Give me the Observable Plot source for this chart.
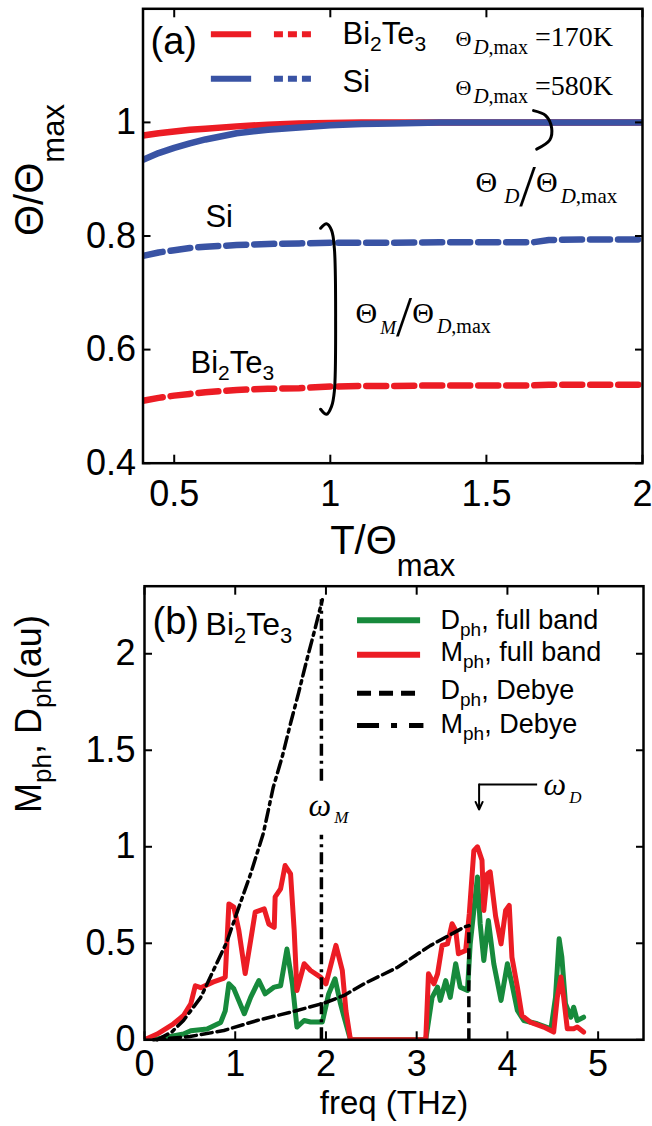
<!DOCTYPE html>
<html><head><meta charset="utf-8">
<script src="https://cdn.jsdelivr.net/npm/d3@7"></script>
<script src="https://cdn.jsdelivr.net/npm/@observablehq/plot@0.6"></script>
<style>
body{margin:0;background:#fff;}
#chart{width:652px;height:1126px;overflow:hidden;background:#fff}
#chart svg{display:block}
</style></head><body><div id="chart"></div>
<script>
// ---------- Panel (a) data ----------
const tA = [0.4, 0.45, 0.5, 0.55, 0.6, 0.7, 0.8, 0.9, 1.0, 1.1, 1.2, 1.35, 1.5, 1.65, 1.7, 1.8, 2.0];
const thetaD_Bi2Te3 = [0.977, 0.981, 0.984, 0.987, 0.989, 0.993, 0.996, 0.998, 0.999, 1.0, 1.0, 1.0, 1.0, 1.0, 1.0, 1.0, 1.0];
const thetaD_Si     = [0.934, 0.946, 0.955, 0.963, 0.970, 0.981, 0.987, 0.991, 0.995, 0.997, 0.998, 1.0, 1.0, 1.0, 1.0, 1.0, 1.0];
const thetaM_Si     = [0.765, 0.771, 0.775, 0.779, 0.781, 0.784, 0.786, 0.787, 0.788, 0.788, 0.788, 0.789, 0.789, 0.789, 0.793, 0.794, 0.794];
const thetaM_Bi2Te3 = [0.510, 0.515, 0.519, 0.522, 0.525, 0.529, 0.531, 0.532, 0.535, 0.536, 0.536, 0.537, 0.537, 0.537, 0.538, 0.538, 0.538];
const ticksAx = [0.5, 1, 1.5, 2];
const ticksAy = [0.4, 0.6, 0.8, 1];

// ---------- Panel (b) data ----------
const freqM = [0, 0.14, 0.32, 0.43, 0.51, 0.56, 0.62, 0.76, 0.87, 0.89, 0.93, 0.985, 1.04, 1.11, 1.17, 1.22, 1.32, 1.37, 1.43, 1.44, 1.5, 1.55, 1.61, 1.65, 1.68, 1.76, 1.83, 1.94, 2.0, 2.11, 2.18, 2.22, 2.27, 3.1, 3.13, 3.19, 3.23, 3.28, 3.34, 3.39, 3.43, 3.46, 3.54, 3.58, 3.63, 3.67, 3.72, 3.74, 3.78, 3.81, 3.87, 3.93, 3.98, 4.02, 4.05, 4.11, 4.16, 4.25, 4.4, 4.51, 4.55, 4.59, 4.62, 4.66, 4.73, 4.77, 4.84];
const Mph_full = [0, 0.03, 0.083, 0.126, 0.186, 0.28, 0.27, 0.30, 0.318, 0.325, 0.704, 0.687, 0.566, 0.343, 0.515, 0.661, 0.678, 0.6, 0.583, 0.74, 0.782, 0.903, 0.86, 0.566, 0.255, 0.394, 0.359, 0.325, 0.29, 0.489, 0.36, 0.152, 0, 0, 0.342, 0.29, 0.342, 0.489, 0.497, 0.601, 0.567, 0.446, 0.463, 0.653, 0.98, 1.0, 0.93, 0.67, 0.86, 0.87, 0.64, 0.497, 0.67, 0.696, 0.428, 0.273, 0.126, 0.092, 0.066, 0.04, 0.22, 0.325, 0.22, 0.057, 0.057, 0.066, 0.04];
const freqD = [0, 0.14, 0.43, 0.51, 0.69, 0.84, 0.89, 0.93, 0.985, 1.1, 1.17, 1.26, 1.33, 1.43, 1.5, 1.57, 1.63, 1.68, 1.76, 1.83, 1.96, 2.03, 2.1, 2.16, 2.2, 2.27, 3.1, 3.17, 3.23, 3.26, 3.32, 3.37, 3.43, 3.48, 3.56, 3.59, 3.67, 3.7, 3.74, 3.79, 3.85, 3.93, 4.0, 4.05, 4.11, 4.18, 4.33, 4.48, 4.53, 4.57, 4.6, 4.64, 4.7, 4.73, 4.77, 4.84];
const Dph_full = [0, 0.005, 0.03, 0.047, 0.056, 0.09, 0.15, 0.29, 0.264, 0.135, 0.22, 0.307, 0.238, 0.273, 0.28, 0.47, 0.29, 0.066, 0.1, 0.092, 0.092, 0.238, 0.316, 0.187, 0.117, 0, 0, 0.22, 0.273, 0.204, 0.307, 0.22, 0.394, 0.273, 0.256, 0.497, 0.843, 0.6, 0.411, 0.618, 0.394, 0.204, 0.394, 0.29, 0.152, 0.1, 0.083, 0.057, 0.22, 0.523, 0.428, 0.187, 0.117, 0.169, 0.1, 0.117];
const freqDebyeM = [0.14, 0.3, 0.43, 0.62, 0.76, 0.91, 1.02, 1.17, 1.31, 1.42, 1.52, 1.61, 1.7, 1.79, 1.88, 1.96];
const Mph_debye  = [0, 0.04, 0.10, 0.22, 0.36, 0.51, 0.66, 0.86, 1.07, 1.31, 1.47, 1.64, 1.80, 1.97, 2.13, 2.28];
const freqDebyeD = [0.1, 0.5, 0.875, 1.24, 1.61, 1.98, 2.2, 2.42, 2.79, 3.15, 3.52, 3.575];
const Dph_debye  = [0, 0.017, 0.048, 0.10, 0.143, 0.19, 0.23, 0.29, 0.376, 0.488, 0.583, 0.592];
const omegaM = 1.95, omegaD = 3.575;
const ticksBx = [0, 1, 2, 3, 4, 5];
const ticksBy = [0, 0.5, 1, 1.5, 2];

// ---------- styling ----------
const RED = "#ec1c24", BLUE = "#3953a4", GREEN = "#178a3c";
const SANS = "Liberation Sans, Arial, sans-serif";
const SERIF = "Liberation Serif, Times New Roman, serif";

// rich-text specs (subscripts / italics), keyed by plain text
const richA = {
  "Bi2Te3": [{t:"Bi",s:31},{t:"2",s:21,b:7},{t:"Te",s:31},{t:"3",s:21,b:7}],
  "ΘD,max =170K": [{t:"Θ",s:22,f:SERIF},{t:"D",s:21,b:8,i:1,f:SERIF,dx:2},{t:",max",s:20,b:8,f:SERIF},{t:" =170K",s:28,f:SERIF}],
  "ΘD,max =580K": [{t:"Θ",s:22,f:SERIF},{t:"D",s:21,b:8,i:1,f:SERIF,dx:2},{t:",max",s:20,b:8,f:SERIF},{t:" =580K",s:28,f:SERIF}],
  "ΘD/ΘD,max": [{t:"Θ",s:30,f:SERIF},{t:"D",s:21,b:11,i:1,f:SERIF,dx:7},{t:"/",s:60,b:14,f:SERIF},{t:"Θ",s:30,f:SERIF},{t:"D",s:21,b:11,i:1,f:SERIF,dx:3},{t:",max",s:21,b:11,f:SERIF}],
  "ΘM/ΘD,max": [{t:"Θ",s:30,f:SERIF},{t:"M",s:19,b:11,i:1,f:SERIF,dx:3},{t:"/",s:58,b:13,f:SERIF},{t:"Θ",s:30,f:SERIF},{t:"D",s:20,b:10,i:1,f:SERIF,dx:3},{t:",max",s:20,b:10,f:SERIF}],
  "T/Θmax": [{t:"T/Θ",s:40},{t:"max",s:31,b:22}],
  "Θ/Θmax": [{t:"Θ/Θ",s:40},{t:"max",s:31,b:21}]
};
const richB = {
  "Bi2Te3": [{t:"Bi",s:32},{t:"2",s:22,b:8},{t:"Te",s:32},{t:"3",s:22,b:8}],
  "Dph, full band": [{t:"D",s:27},{t:"ph",s:19,b:7},{t:", full band",s:27}],
  "Mph, full band": [{t:"M",s:27},{t:"ph",s:19,b:7},{t:", full band",s:27}],
  "Dph, Debye": [{t:"D",s:27},{t:"ph",s:19,b:7},{t:", Debye",s:27}],
  "Mph, Debye": [{t:"M",s:27},{t:"ph",s:19,b:7},{t:", Debye",s:27}],
  "ωM": [{t:"ω",s:32,i:1,f:SERIF},{t:"M",s:17,b:7,i:1,f:SERIF,dx:3}],
  "ωD": [{t:"ω",s:32,i:1,f:SERIF},{t:"D",s:17,b:8,i:1,f:SERIF,dx:3}],
  "Mph, Dph(au)": [{t:"M",s:36},{t:"ph",s:26,b:10},{t:", D",s:36},{t:"ph",s:26,b:10},{t:"(au)",s:36}],
  "freq (THz)": [{t:"freq (THz)",s:33}]
};

function rich(svg, specs) {
  svg.querySelectorAll("text").forEach(tx => {
    const segs = specs[tx.textContent];
    if (!segs) return;
    tx.removeAttribute("y");
    while (tx.firstChild) tx.removeChild(tx.firstChild);
    let prev = 0;
    for (const s of segs) {
      const ts = document.createElementNS("http://www.w3.org/2000/svg", "tspan");
      ts.textContent = s.t;
      if (s.s) ts.setAttribute("font-size", s.s);
      const b = s.b || 0;
      if (b !== prev) ts.setAttribute("dy", b - prev);
      prev = b;
      if (s.dx) ts.setAttribute("dx", s.dx);
      if (s.i) ts.setAttribute("font-style", "italic");
      if (s.f) ts.setAttribute("font-family", s.f);
      tx.appendChild(ts);
    }
  });
}

// ---------- panel (a) annotations (data coordinates) ----------
const annA = [
  {label:"(a)", x:0.424, y:1.12, size:38},
  {label:"Bi2Te3", x:1.039, y:1.1375, size:31},
  {label:"Si", x:1.039, y:1.0535, size:31},
  {label:"ΘD,max =170K", x:1.401, y:1.135, size:28},
  {label:"ΘD,max =580K", x:1.401, y:1.049, size:28},
  {label:"ΘD/ΘD,max", x:1.465, y:0.877, size:30},
  {label:"Si", x:0.600, y:0.815, size:31},
  {label:"ΘM/ΘD,max", x:1.081, y:0.647, size:30},
  {label:"Bi2Te3", x:0.552, y:0.559, size:31}
];
const legendA = [
  {x1:0.619, x2:0.748, y:1.155, c:RED, dotted:false},
  {x1:0.821, x2:0.940, y:1.155, c:RED, dotted:true},
  {x1:0.619, x2:0.748, y:1.077, c:BLUE, dotted:false},
  {x1:0.821, x2:0.940, y:1.077, c:BLUE, dotted:true}
];
const bracketD = [{x:1.651,y:1.0207},{x:1.690,y:1.012},{x:1.709,y:0.990},{x:1.703,y:0.969},{x:1.661,y:0.953}];
const bracketM = [{x:0.969,y:0.8136},{x:0.988,y:0.8216},{x:1.004,y:0.810},{x:1.013,y:0.778},{x:1.017,y:0.651},{x:1.013,y:0.527},{x:1.004,y:0.500},{x:0.988,y:0.486},{x:0.969,y:0.495}];

const rowsA = tA.map((t, i) => ({t, dBi: thetaD_Bi2Te3[i], dSi: thetaD_Si[i], mSi: thetaM_Si[i], mBi: thetaM_Bi2Te3[i]}));

const plotA = Plot.plot({
  width: 652, height: 578,
  marginLeft: 142.5, marginRight: 10, marginTop: 8.3, marginBottom: 115.3,
  x: {domain: [0.4, 2]},
  y: {domain: [0.4, 1.2]},
  style: {fontFamily: SANS, background: "white", color: "black", overflow: "visible"},
  marks: [
    Plot.line(rowsA, {x:"t", y:"mBi", stroke:RED, strokeWidth:6.5, strokeDasharray:"20,8", clip:true}),
    Plot.line(rowsA, {x:"t", y:"mSi", stroke:BLUE, strokeWidth:6.5, strokeDasharray:"20,8", clip:true}),
    Plot.line(rowsA, {x:"t", y:"dBi", stroke:RED, strokeWidth:6.5, clip:true}),
    Plot.line(rowsA, {x:"t", y:"dSi", stroke:BLUE, strokeWidth:6.5, clip:true}),
    Plot.line(bracketD, {x:"x", y:"y", curve:"catmull-rom", stroke:"black", strokeWidth:3}),
    Plot.line(bracketM, {x:"x", y:"y", curve:"catmull-rom", stroke:"black", strokeWidth:3}),
    Plot.ruleY(legendA.filter(d => !d.dotted), {x1:"x1", x2:"x2", y:"y", stroke:"c", strokeWidth:6}),
    Plot.ruleY(legendA.filter(d => d.dotted), {x1:"x1", x2:"x2", y:"y", stroke:"c", strokeWidth:6, strokeDasharray:"9,5"}),
    Plot.text(annA, {x:"x", y:"y", text:"label", fontSize:"size", textAnchor:"start", lineAnchor:"bottom", fill:"black"}),
    Plot.axisX(ticksAx, {anchor:"bottom", tickSize:-8, tickFormat:() => "", label:null, strokeWidth:2}),
    Plot.axisX(ticksAx, {anchor:"top", tickSize:-8, tickFormat:() => "", label:null, strokeWidth:2}),
    Plot.axisY(ticksAy, {anchor:"left", tickSize:-8, tickFormat:() => "", label:null, strokeWidth:2}),
    Plot.axisY(ticksAy, {anchor:"right", tickSize:-8, tickFormat:() => "", label:null, strokeWidth:2}),
    Plot.axisX(ticksAx, {anchor:"bottom", tickSize:0, tickPadding:17, fontSize:36, tickFormat:d => String(d), label:null}),
    Plot.axisY(ticksAy, {anchor:"left", tickSize:0, tickPadding:7, fontSize:36, tickFormat:d => String(d), label:null}),
    Plot.text(["T/Θmax"], {frameAnchor:"bottom", dy:90.3, lineAnchor:"bottom", fontSize:40}),
    Plot.text(["Θ/Θmax"], {frameAnchor:"left", dx:-100.5, rotate:-90, lineAnchor:"bottom", fontSize:40}),
    Plot.frame({stroke:"black", strokeWidth:2.5})
  ]
});
rich(plotA, richA);

// ---------- panel (b) ----------
const rowsM = freqM.map((f, i) => ({f, v: Mph_full[i]}));
const rowsD = freqD.map((f, i) => ({f, v: Dph_full[i]}));
const rowsDebM = freqDebyeM.map((f, i) => ({f, v: Mph_debye[i]}));
const rowsDebD = freqDebyeD.map((f, i) => ({f, v: Dph_debye[i]}));

const annB = [
  {label:"(b)", x:0.088, y:2.10, size:38},
  {label:"Bi2Te3", x:0.673, y:2.095, size:32},
  {label:"Dph, full band", x:3.263, y:2.126, size:27},
  {label:"Mph, full band", x:3.263, y:1.965, size:27},
  {label:"Dph, Debye", x:3.263, y:1.768, size:27},
  {label:"Mph, Debye", x:3.263, y:1.587, size:27},
  {label:"ωM", x:1.808, y:1.162, size:32},
  {label:"ωD", x:4.399, y:1.267, size:32}
];
const legendB = [
  {x1:2.348, x2:3.043, y:2.173, c:GREEN, style:"solid"},
  {x1:2.348, x2:3.043, y:1.995, c:RED, style:"solid"},
  {x1:2.348, x2:2.988, y:1.796, c:"black", style:"dash"},
  {x1:2.348, x2:3.080, y:1.628, c:"black", style:"dashdot"}
];
const arrowD = {x0:4.333, x1:3.688, y0:1.323, y1:1.193};

const plotB = Plot.plot({
  width: 652, height: 548,
  marginLeft: 144, marginRight: 9, marginTop: 7.7, marginBottom: 86.7,
  x: {domain: [0, 5.5]},
  y: {domain: [0, 2.35]},
  style: {fontFamily: SANS, background: "white", color: "black", overflow: "visible"},
  marks: [
    Plot.line(rowsD, {x:"f", y:"v", stroke:GREEN, strokeWidth:5, clip:true}),
    Plot.line(rowsM, {x:"f", y:"v", stroke:RED, strokeWidth:5, clip:true}),
    Plot.line(rowsDebD, {x:"f", y:"v", stroke:"black", strokeWidth:3.5, strokeDasharray:"11,5"}),
    Plot.ruleX([omegaD], {y1:0, y2:0.592, stroke:"black", strokeWidth:3.5, strokeDasharray:"11,5"}),
    Plot.line(rowsDebM, {x:"f", y:"v", stroke:"black", strokeWidth:3.5, strokeDasharray:"12,5,3,5"}),
    Plot.ruleX([omegaM], {y1:0, y2:1.06, stroke:"black", strokeWidth:3.5, strokeDasharray:"12,5,3,5"}),
    Plot.ruleX([omegaM], {y1:1.34, y2:2.28, stroke:"black", strokeWidth:3.5, strokeDasharray:"12,5,3,5"}),
    Plot.ruleY([arrowD], {x1:"x0", x2:"x1", y:"y0", stroke:"black", strokeWidth:2}),
    Plot.arrow([arrowD], {x1:"x1", x2:"x1", y1:"y0", y2:"y1", stroke:"black", strokeWidth:2, headLength:12, headAngle:50}),
    Plot.ruleY(legendB.filter(d => d.style === "solid"), {x1:"x1", x2:"x2", y:"y", stroke:"c", strokeWidth:6}),
    Plot.ruleY(legendB.filter(d => d.style === "dash"), {x1:"x1", x2:"x2", y:"y", stroke:"c", strokeWidth:5, strokeDasharray:"14,8"}),
    Plot.ruleY(legendB.filter(d => d.style === "dashdot"), {x1:"x1", x2:"x2", y:"y", stroke:"c", strokeWidth:5, strokeDasharray:"22,12,6,12"}),
    Plot.text(annB, {x:"x", y:"y", text:"label", fontSize:"size", textAnchor:"start", lineAnchor:"bottom", fill:"black"}),
    Plot.axisX(ticksBx, {anchor:"bottom", tickSize:-8, tickFormat:() => "", label:null, strokeWidth:2}),
    Plot.axisX(ticksBx, {anchor:"top", tickSize:-8, tickFormat:() => "", label:null, strokeWidth:2}),
    Plot.axisY(ticksBy, {anchor:"left", tickSize:-8, tickFormat:() => "", label:null, strokeWidth:2}),
    Plot.axisY(ticksBy, {anchor:"right", tickSize:-8, tickFormat:() => "", label:null, strokeWidth:2}),
    Plot.axisX(ticksBx, {anchor:"bottom", tickSize:0, tickPadding:11, fontSize:36, tickFormat:d => String(d), label:null}),
    Plot.axisY(ticksBy, {anchor:"left", tickSize:0, tickPadding:9, fontSize:36, tickFormat:d => String(d), label:null}),
    Plot.text(["freq (THz)"], {frameAnchor:"bottom", dy:74, lineAnchor:"bottom", fontSize:33}),
    Plot.text(["Mph, Dph(au)"], {frameAnchor:"left", dx:-104, rotate:-90, lineAnchor:"bottom", fontSize:36}),
    Plot.frame({stroke:"black", strokeWidth:2.5})
  ]
});
rich(plotB, richB);

const chart = document.getElementById("chart");
chart.appendChild(plotA);
chart.appendChild(plotB);
</script>
</body></html>
